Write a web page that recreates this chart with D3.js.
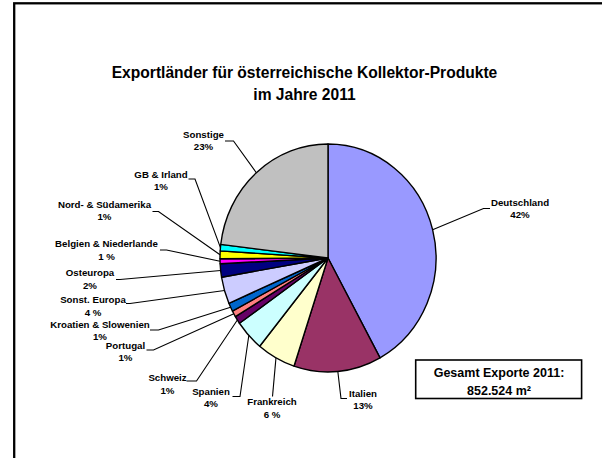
<!DOCTYPE html>
<html><head><meta charset="utf-8">
<script src="https://cdn.jsdelivr.net/npm/d3@7"></script>
<style>
html,body{margin:0;padding:0;background:#fff;}
svg{display:block;}
text{font-family:"Liberation Sans",Arial,sans-serif;font-weight:bold;fill:#000;}
</style></head>
<body>
<script>
// ---- data ----
const categories = ["Deutschland","Italien","Frankreich","Spanien","Schweiz","Portugal",
  "Kroatien & Slowenien","Sonst. Europa","Osteuropa","Belgien & Niederlande",
  "Nord- & Südamerika","GB & Irland","Sonstige"];
const shares = [42.0, 13.1, 5.8, 4.4, 1.1, 0.9, 1.2, 3.8, 1.9, 0.7, 1.1, 0.9, 23.1];
const percentLabels = ["42%","13%","6 %","4%","1%","1%","1%","4 %","2%","1 %","1%","1%","23%"];
const colors = ["#9999FF","#993366","#FFFFCC","#CCFFFF","#660066","#FF8080",
  "#0066CC","#CCCCFF","#000080","#FF00FF","#FFFF00","#00FFFF","#C0C0C0"];
const titleLines = ["Exportländer für österreichische Kollektor-Produkte","im Jahre 2011"];
const totalLines = ["Gesamt Exporte 2011:","852.524 m²"];

// ---- layout (label text centre, first baseline, leader start/elbow) ----
const labelLayout = [
  {x:520, y:205.5, sx:490, sy:208.5, ex:483.5},
  {x:363, y:396.5, sx:347, sy:398.5, ex:341},
  {x:272, y:405, sx:272.5, sy:396.5, ex:272.5},
  {x:211, y:394.5, sx:232.5, sy:396.5, ex:240},
  {x:167.5, y:381, sx:186.5, sy:381, ex:196.5},
  {x:125.5, y:348.5, sx:146.5, sy:350, ex:153.5},
  {x:100, y:327.5, sx:150, sy:330, ex:158.5},
  {x:93, y:303, sx:126, sy:303.5, ex:130},
  {x:90, y:276, sx:116, sy:279.5, ex:120},
  {x:106.5, y:247, sx:160, sy:250, ex:166.5},
  {x:104.5, y:207.5, sx:152.5, sy:211.5, ex:158.5},
  {x:161, y:177.5, sx:188.5, sy:179, ex:195},
  {x:203.5, y:137.5, sx:225, sy:141, ex:233.5}
];

const W = 602, H = 458;
const cx = 328, cy = 258, rx = 108, ry = 114;

const svg = d3.select("body").append("svg").attr("width", W).attr("height", H);

// outer frame
svg.append("rect").attr("x", 14.2).attr("y", 3.3).attr("width", W + 20).attr("height", H + 20)
  .attr("fill", "none").attr("stroke", "#000").attr("stroke-width", 2.3);

// title
svg.append("g").selectAll("text").data(titleLines).join("text")
  .attr("x", 304.5).attr("y", (d, i) => 78.3 + i * 21.7)
  .attr("text-anchor", "middle").attr("font-size", 15.6).text(d => d);

// pie
const pie = d3.pie().sort(null).value(d => d)(shares);
const arc = d3.arc().innerRadius(0).outerRadius(100);
const g = svg.append("g").attr("transform", `translate(${cx},${cy}) scale(${rx/100},${ry/100})`);
g.selectAll("path").data(pie).join("path")
  .attr("d", arc).attr("fill", (d, i) => colors[i])
  .attr("stroke", "#000").attr("stroke-width", 1.4).attr("vector-effect", "non-scaling-stroke")
  .attr("stroke-linejoin", "round");

// leaders + labels
const edge = a => [cx + rx * Math.sin(a), cy - ry * Math.cos(a)];
const lg = svg.append("g");
pie.forEach((p, i) => {
  const L = labelLayout[i];
  const mid = (p.startAngle + p.endAngle) / 2;
  const e = edge(mid);
  lg.append("path")
    .attr("d", d3.line()([[L.sx, L.sy], [L.ex, L.sy], e]))
    .attr("fill", "none").attr("stroke", "#000").attr("stroke-width", 1.1);
  const t = lg.append("text").attr("text-anchor", "middle").attr("font-size", 9.7);
  t.append("tspan").attr("x", L.x).attr("y", L.y).text(categories[i]);
  t.append("tspan").attr("x", L.x).attr("y", L.y + 12.7).text(percentLabels[i]);
});

// total box
svg.append("rect").attr("x", 415.7).attr("y", 360).attr("width", 165.9).attr("height", 38.5)
  .attr("fill", "#fff").attr("stroke", "#000").attr("stroke-width", 1.6);
svg.append("g").selectAll("text").data(totalLines).join("text")
  .attr("x", 499).attr("y", (d, i) => 377.2 + i * 17.3)
  .attr("text-anchor", "middle").attr("font-size", 12.5).text(d => d);
</script>
</body></html>
